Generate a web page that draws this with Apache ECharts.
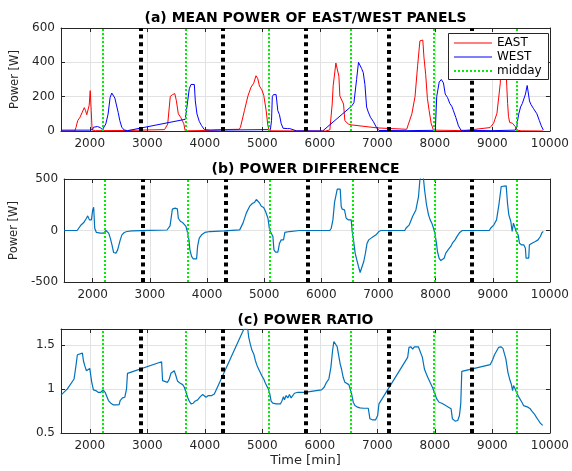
<!DOCTYPE html>
<html><head><meta charset="utf-8">
<script src="https://cdn.jsdelivr.net/npm/echarts@6/dist/echarts.min.js"></script>
<style>html,body{margin:0;padding:0;background:#fff}#c{width:572px;height:471px}</style>
</head><body><div id="c"></div>
<script>
// ---------- data ----------
const eastTime  = [1500,1740,1760,1790,1830,1870,1905,1925,1948,1975,1990,2008,2025,2041,2100,2650,3000,3300,3355,3400,3440,3478,3505,3540,3580,3610,3635,3658,3700,4000,4300,4600,4620,4689,4750,4805,4850,4890,4921,4950,4991,5025,5066,5095,5118,5200,5700,6100,6174,6215,6232,6261,6279,6308,6331,6348,6377,6412,6435,6494,6540,6553,7000,7510,7540,7600,7655,7700,7740,7790,7810,7840,7870,7900,7935,7975,8000,8500,8960,9021,9079,9137,9150,9230,9250,9265,9280,9300,9350,9400,9430,9500,9885];
const eastPower = [0,0,20,60,80,110,136,120,95,100,150,235,120,6,2,3,6,8,40,202,212,218,178,100,80,60,42,2,1,3,8,10,22,119,204,256,278,322,305,262,240,208,121,35,2,1,0,0,6,157,264,274,396,396,319,204,200,157,60,41,36,26,18,10,40,100,200,380,525,530,430,330,190,120,45,5,1,2,20,45,103,278,435,435,260,160,85,50,45,25,5,1,0];

const westTime  = [1500,2000,2050,2064,2134,2180,2221,2279,2319,2354,2383,2412,2436,2470,2494,2523,2557,2598,2656,3660,3672,3701,3730,3760,3818,3835,3864,3905,3945,3992,4100,5100,5140,5160,5174,5194,5240,5269,5298,5327,5360,5391,5440,5478,5594,6048,6553,6593,6639,6672,6700,6726,6755,6784,6813,6842,6880,6930,6987,7028,7500,8000,8010,8032,8075,8112,8149,8180,8220,8260,8294,8323,8365,8410,8455,9000,9400,9426,9455,9490,9520,9545,9575,9605,9630,9645,9670,9716,9774,9815,9850,9885];
const westPower = [5,5,8,22,26,20,8,41,99,196,221,211,192,186,108,60,22,6,2,68,70,170,246,271,271,175,99,55,31,8,5,8,8,60,200,212,212,119,95,45,16,10,14,14,1,0,145,165,300,400,408,364,340,270,140,110,80,55,19,3,2,4,19,200,285,300,280,215,195,160,144,118,78,30,4,2,5,35,95,140,160,165,215,265,265,175,155,130,100,62,30,6];

const diffTime  = [1500,1727,1756,1797,1843,1890,1913,1942,1977,2000,2017,2035,2064,2134,2192,2232,2279,2308,2337,2366,2406,2436,2470,2482,2511,2552,2598,2685,3000,3300,3353,3394,3440,3481,3498,3539,3574,3597,3632,3655,3684,3701,3730,3760,3818,3835,3864,3905,3963,4050,4300,4572,4631,4689,4747,4793,4834,4863,4892,4921,4950,4991,5025,5066,5095,5124,5153,5171,5200,5240,5269,5298,5339,5362,5443,5618,6150,6174,6203,6232,6261,6279,6331,6348,6366,6406,6435,6476,6523,6540,6563,6592,6621,6650,6679,6714,6743,6772,6801,6830,6871,6912,6958,7005,7045,7460,7481,7539,7597,7655,7701,7725,7748,7783,7806,7841,7876,7905,7934,7963,7986,8015,8032,8061,8090,8119,8149,8178,8218,8265,8294,8340,8381,8422,8468,8940,8962,9020,9066,9107,9148,9235,9258,9281,9316,9339,9362,9385,9409,9444,9467,9502,9542,9571,9583,9629,9641,9687,9745,9792,9833,9862,9885];
const diffPower = [0,0,13,54,77,119,142,103,103,200,226,22,-19,-26,-26,0,-26,-74,-139,-214,-220,-188,-172,-91,-42,-19,-10,-3,2,5,45,207,217,210,119,87,77,71,39,-10,-91,-188,-252,-275,-275,-155,-74,-42,-19,-10,-3,6,74,171,236,262,275,301,317,265,236,223,184,119,6,-26,-58,-188,-210,-210,-123,-91,-91,-19,-10,0,0,22,103,275,281,401,401,233,207,200,119,103,103,-10,-91,-220,-285,-349,-408,-349,-301,-220,-123,-91,-74,-58,-42,-10,0,0,22,55,136,200,330,492,530,530,398,249,152,103,71,22,-26,-123,-204,-269,-292,-292,-269,-220,-188,-155,-123,-91,-52,-19,0,0,22,55,103,249,427,433,265,152,87,-10,71,71,-10,-42,-123,-139,-139,-172,-269,-269,-139,-123,-107,-91,-58,-19,-10];

const ratioTime  = [1500,1611,1727,1756,1785,1814,1872,1890,1913,1942,1971,2000,2017,2035,2064,2105,2145,2192,2232,2267,2296,2325,2366,2412,2470,2511,2528,2569,2610,2639,2656,3249,3266,3295,3353,3382,3411,3440,3469,3498,3527,3574,3615,3644,3673,3701,3730,3760,3800,3829,3876,3922,3963,3992,4021,4061,4120,4166,4660,4677,4747,4764,4793,4822,4851,4880,4909,4950,4991,5025,5054,5083,5106,5130,5153,5182,5240,5316,5339,5368,5385,5414,5443,5472,5501,5530,5559,5618,5734,6029,6075,6116,6157,6192,6221,6244,6273,6302,6331,6354,6377,6406,6435,6464,6505,6534,6552,6581,6610,6656,6697,6755,6842,6871,6912,6970,7005,7028,7527,7550,7585,7614,7643,7672,7713,7742,7783,7818,7847,7876,7916,7957,7992,8032,8073,8120,8149,8189,8236,8282,8305,8352,8398,8427,8450,8468,8962,9002,9037,9066,9107,9148,9183,9212,9235,9270,9299,9328,9351,9368,9397,9426,9455,9484,9513,9542,9571,9618,9658,9687,9728,9763,9803,9833,9873];
const ratioValue = [0.93,1.0,1.113,1.245,1.388,1.403,1.406,1.32,1.264,1.207,1.188,1.233,1.245,1.075,0.989,0.981,0.962,0.962,0.989,0.962,0.943,0.868,0.838,0.819,0.819,0.823,0.868,0.898,0.906,1.0,1.177,1.309,1.094,1.075,1.075,1.113,1.177,1.188,1.207,1.15,1.086,1.064,1.049,1.019,0.962,0.906,0.861,0.831,0.838,0.861,0.876,0.913,0.936,0.925,0.906,0.925,0.925,0.943,1.651,1.677,1.677,1.584,1.502,1.435,1.397,1.32,1.264,1.207,1.15,1.113,1.064,1.026,1.0,0.943,0.861,0.838,0.831,0.831,0.861,0.913,0.876,0.925,0.898,0.936,0.898,0.906,0.951,0.962,0.962,0.989,1.019,1.075,1.113,1.245,1.433,1.538,1.538,1.478,1.478,1.282,1.226,1.132,1.075,1.056,1.049,1.038,0.943,0.849,0.811,0.793,0.785,0.781,0.781,0.661,0.65,0.65,0.699,0.831,1.358,1.471,1.478,1.451,1.478,1.5,1.478,1.489,1.358,1.226,1.177,1.132,1.075,1.019,0.962,0.887,0.849,0.838,0.823,0.811,0.793,0.774,0.661,0.635,0.642,0.699,0.831,1.2,1.275,1.328,1.388,1.396,1.471,1.478,1.46,1.451,1.339,1.188,1.113,1.056,0.981,1.038,1.0,0.951,0.913,0.898,0.849,0.811,0.811,0.793,0.774,0.748,0.718,0.68,0.642,0.612,0.586];

const middayTimes   = [2218,3665,5105,6543,7987,9425];
const midnightTimes = [2880,4320,5760,7200,8640];

const timeTicks  = [2000,3000,4000,5000,6000,7000,8000,9000,10000];
const timeRange  = [1500,10000];
const powerTicks = [0,200,400,600];
const diffTicks  = [-500,0,500];
const ratioTicks = [0.5,1,1.5];
const ratioRange = [0.5,1.68];

const titles = ['(a) MEAN POWER OF EAST/WEST PANELS','(b) POWER DIFFERENCE','(c) POWER RATIO'];

// ---------- chart ----------
const FONT = 'DejaVu Sans';
const AX = '#262626';
const zip = (a,b) => a.map((v,i) => [v,b[i]]);
const plain = v => String(Math.round(v*1000)/1000);

const grids = [
  {left:61, right:22, top:28,  height:103},
  {left:61, right:22, top:179, height:103},
  {left:61, right:22, top:329, height:104}
];

function xAxes(g, withName){
  const step = timeTicks[1]-timeTicks[0];
  const base = {
    type:'value', gridIndex:g, min:timeRange[0], max:timeRange[1],
    minInterval:step, maxInterval:step, splitNumber:9,
    axisLine:{show:true, onZero:false, lineStyle:{color:AX, width:1}},
    axisTick:{show:true, inside:true, length:4, lineStyle:{color:AX}}
  };
  return [
    Object.assign({}, base, {
      position:'bottom',
      splitLine:{show:true, lineStyle:{color:'#e2e2e2', width:1}},
      axisLabel:{show:true, showMinLabel:false, color:AX, fontSize:12, fontFamily:FONT, margin:7,
        formatter: v => timeTicks.indexOf(v) >= 0 ? plain(v) : ''},
      name: withName ? 'Time [min]' : '', nameLocation:'middle', nameGap:21,
      nameTextStyle:{color:AX, fontSize:13, fontFamily:FONT}
    }),
    Object.assign({}, base, {
      position:'top', splitLine:{show:false}, axisLabel:{show:false}
    })
  ];
}
function yAxes(g, ticks, range, name, gap){
  const base = {
    type:'value', gridIndex:g, min:range[0], max:range[1], interval:ticks[1]-ticks[0],
    axisLine:{show:true, onZero:false, lineStyle:{color:AX, width:1}},
    axisTick:{show:true, inside:true, length:4, lineStyle:{color:AX}}
  };
  return [
    Object.assign({}, base, {
      position:'left',
      splitLine:{show:true, lineStyle:{color:'#e2e2e2', width:1}},
      axisLabel:{show:true, color:AX, fontSize:12, fontFamily:FONT, margin:6,
        formatter: v => ticks.some(t => Math.abs(t - v) < 1e-9) ? plain(v) : ''},
      name:name, nameLocation:'middle', nameGap:gap, nameRotate:90,
      nameTextStyle:{color:AX, fontSize:11.5, fontFamily:FONT}
    }),
    Object.assign({}, base, {
      position:'right', splitLine:{show:false}, axisLabel:{show:false}
    })
  ];
}

function vlines(){
  return {
    silent:true, symbol:['none','none'], label:{show:false}, animation:false,
    emphasis:{disabled:true},
    data: middayTimes.map(t => ({xAxis:t, lineStyle:{color:'#00ee00', width:2, type:[2,2]}}))
      .concat(midnightTimes.map(t => ({xAxis:t, lineStyle:{color:'#000000', width:4, type:[4,3.7]}})))
  };
}

const lineBase = {type:'line', symbol:'none', showSymbol:false, animation:false, clip:true};
const legItem = (n, w) => ({name:n, itemStyle:{opacity:0}, lineStyle:{width:w}});

const LEG = {left:449, top:34};

const option = {
  animation:false,
  backgroundColor:'#ffffff',
  title: titles.map((t,i) => ({
    text:t, left:305.5, top:[11,162,313][i], textAlign:'center', padding:0,
    textStyle:{fontFamily:FONT, fontWeight:'bold', fontSize:14, color:'#000'}
  })),
  grid: grids,
  xAxis: [].concat(xAxes(0,false), xAxes(1,false), xAxes(2,true)),
  yAxis: [].concat(
    yAxes(0, powerTicks, [powerTicks[0], powerTicks[powerTicks.length-1]], 'Power [W]', 35),
    yAxes(1, diffTicks, [diffTicks[0], diffTicks[diffTicks.length-1]], 'Power [W]', 39),
    yAxes(2, ratioTicks, ratioRange, '', 30)
  ),
  graphic: [{
    type:'rect', z:100, zlevel:1, silent:true,
    shape:{x:LEG.left - 0.5, y:LEG.top - 0.5, width:100, height:46},
    style:{fill:'#ffffff', stroke:AX, lineWidth:1}
  }],
  legend: {
    z:110, zlevel:1,
    data:[legItem('EAST',1), legItem('WEST',1), legItem('midday',2)], orient:'vertical', left:LEG.left, top:LEG.top,
    itemWidth:38, itemHeight:12, itemGap:2, padding:[3,6,3,4],
    itemStyle:{opacity:0},
    textStyle:{fontFamily:FONT, fontSize:12, color:'#000'}, selectedMode:false
  },
  series: [
    Object.assign({}, lineBase, {name:'EAST', xAxisIndex:0, yAxisIndex:0, data:zip(eastTime,eastPower),
      color:'#ff0000', lineStyle:{color:'#ff0000', width:1}}),
    Object.assign({}, lineBase, {name:'WEST', xAxisIndex:0, yAxisIndex:0, data:zip(westTime,westPower),
      color:'#0000ff', lineStyle:{color:'#0000ff', width:1}}),
    Object.assign({}, lineBase, {name:'midday', xAxisIndex:0, yAxisIndex:0, data:[],
      color:'#00ee00', lineStyle:{color:'#00ee00', width:2, type:[2,2]}, markLine:vlines()}),
    Object.assign({}, lineBase, {name:'diff', xAxisIndex:2, yAxisIndex:2, data:zip(diffTime,diffPower),
      color:'#0072bd', lineStyle:{color:'#0072bd', width:1.2}, markLine:vlines()}),
    Object.assign({}, lineBase, {name:'ratio', xAxisIndex:4, yAxisIndex:4, data:zip(ratioTime,ratioValue),
      color:'#0072bd', lineStyle:{color:'#0072bd', width:1.2}, markLine:vlines()})
  ]
};

const chart = echarts.init(document.getElementById('c'), null, {renderer:'canvas'});
chart.setOption(option);
</script>
</body></html>
